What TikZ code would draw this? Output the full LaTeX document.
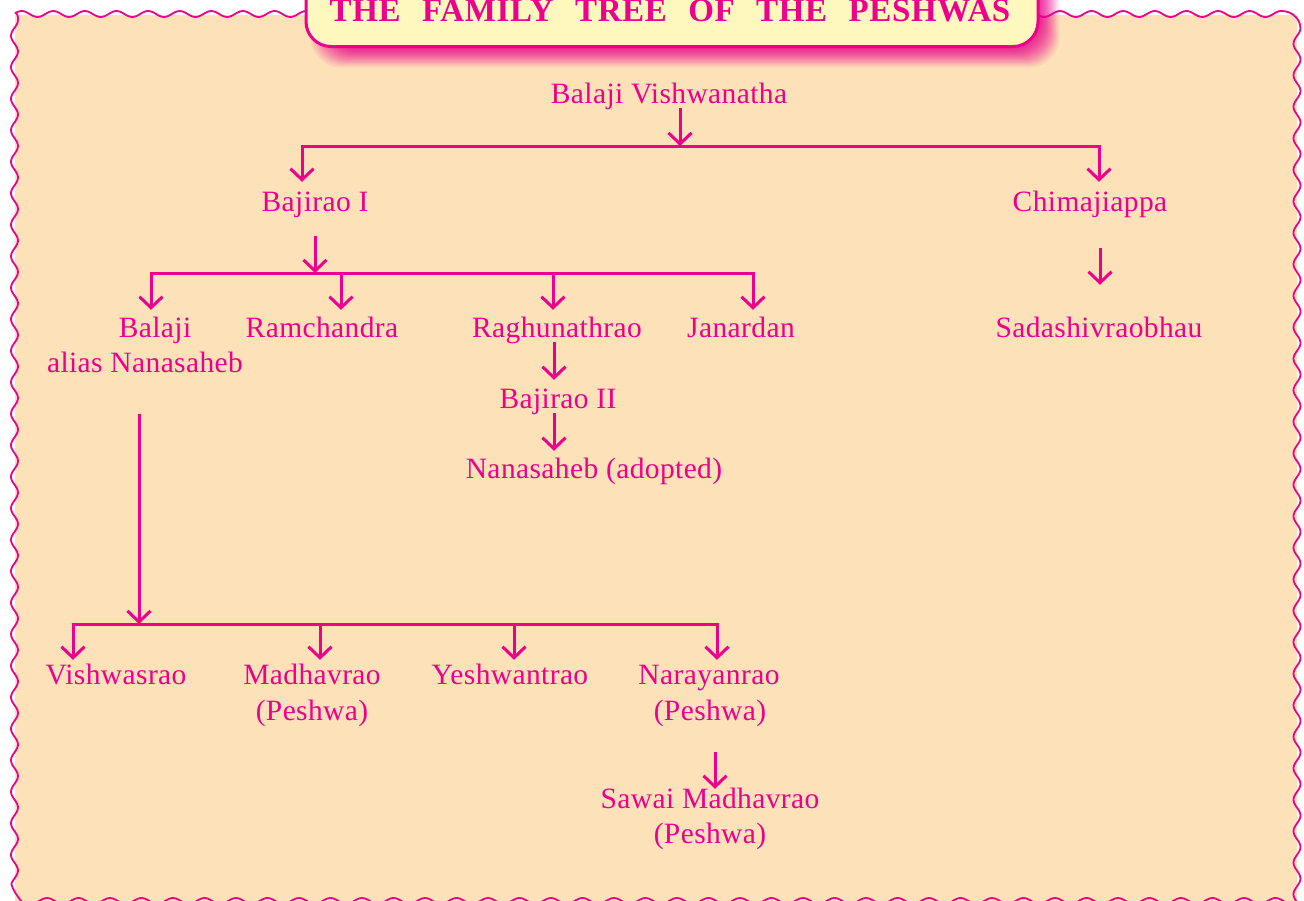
\documentclass[tikz,border=0pt]{standalone}
\usepackage{fontspec}
\setmainfont{Liberation Serif}
\newfontfamily\personfont[LetterSpace=1.3]{Liberation Serif}
\newfontfamily\titlefont[LetterSpace=2]{Liberation Serif}
\usetikzlibrary{arrows.meta}
\definecolor{pinkink}{RGB}{236,0,140}
\definecolor{peach}{RGB}{253,225,184}
\definecolor{titlefill}{RGB}{254,247,190}
\tikzset{
  person/.style={anchor=base,inner sep=0pt,text height=19pt,text depth=5pt,text=pinkink,font=\personfont\fontsize{29.5}{32}\selectfont},
  arr/.style={draw=pinkink,line width=3pt,-{Straight Barb[length=11pt,width=23pt,line width=3pt]}},
  bus/.style={draw=pinkink,line width=3pt,line cap=rect},
  wave/.style={draw=pinkink,line width=1.8pt,line join=round}
}
\begin{document}
\begin{tikzpicture}[x=1pt,y=-1pt]
\useasboundingbox (0,0) rectangle (1304,900);
% panel
\fill[peach] (15,14.7) -- (1297,14.7) -- (1297,905) -- (15,905) -- cycle;
% wavy border
\draw[wave] (15,12.5) .. controls (17,12.5) and (18.5,17) .. (18,20)
  plot[domain=20:884,samples=433,variable=\t] ({14.5+3.5*cos(11.4286*(\t-20))},\t)
  .. controls (13,890) and (17,896) .. (22,902);
\draw[wave] (15,12.5) plot[domain=15:306,samples=146,variable=\t] (\t,{14-3*cos(11.3924*(\t-21.7))});
\draw[wave] plot[domain=1038:1282,samples=123,variable=\t] (\t,{14-3*cos(11.3924*(\t-1060))})
  .. controls (1290,11) and (1300,17) .. (1300.5,28)
  plot[domain=28:905,samples=440,variable=\t] ({1297+3.5*cos(11.4286*(\t-28))},\t);
\draw[wave] plot[domain=24:1290,samples=634,variable=\t] (\t,{901-3*cos(11.4286*(\t-47))});
% title shadow
\foreach \i in {0,...,19}{
  \pgfmathsetmacro{\inset}{22*((\i+1)/20)^0.7}
  \fill[pinkink,opacity=0.075,rounded corners=30pt]
    ({308+\inset},-40) rectangle ({1062-\inset},{70-\inset});
}
% title
\node[draw=pinkink,line width=3pt,fill=titlefill,rounded corners=25pt,inner sep=0pt,
      minimum width=732pt,minimum height=108pt,anchor=south] (titlebox) at (672,48) {};
\node[anchor=base,inner sep=0pt,text=pinkink,font=\titlefont\fontsize{33}{36}\selectfont\bfseries] (titletext) at (670,21)
  {\spaceskip=21.4pt\relax THE FAMILY TREE OF THE PESHWAS};
% people
\node[person] (bv) at (669,103) {Balaji Vishwanatha};
\node[person] (b1) at (315,211) {Bajirao I};
\node[person] (chim) at (1090,211) {Chimajiappa};
\node[person] (bal) at (155,337) {Balaji};
\node[person] (alias) at (145,372) {alias Nanasaheb};
\node[person] (ram) at (322,337) {Ramchandra};
\node[person] (rag) at (557,337) {Raghunathrao};
\node[person] (jan) at (741,337) {Janardan};
\node[person] (sad) at (1099,337) {Sadashivraobhau};
\node[person] (b2) at (558,408) {Bajirao II};
\node[person] (nana) at (594,478) {Nanasaheb (adopted)};
\node[person] (vis) at (116,684) {Vishwasrao};
\node[person] (mad) at (312,684) {Madhavrao};
\node[person] (madp) at (312,720) {(Peshwa)};
\node[person] (yes) at (510,684) {Yeshwantrao};
\node[person] (nar) at (709,684) {Narayanrao};
\node[person] (narp) at (710,720) {(Peshwa)};
\node[person] (saw) at (710,808) {Sawai Madhavrao};
\node[person] (sawp) at (710,843) {(Peshwa)};
% junctions
\coordinate (j1) at (680,146);
\coordinate (j1a) at (302,146);
\coordinate (j1b) at (1099,146);
\coordinate (j2) at (315,273);
\coordinate (j2a) at (151,273);
\coordinate (j2b) at (341,273);
\coordinate (j2c) at (553,273);
\coordinate (j2d) at (753,273);
\coordinate (j3) at (139,624);
\coordinate (j3a) at (73,624);
\coordinate (j3b) at (320,624);
\coordinate (j3c) at (514,624);
\coordinate (j3d) at (717,624);
\coordinate (cx) at (1100,248);
\coordinate (rx) at (554,343);
\coordinate (nx) at (715,752);
% connectors
\draw[bus] (j1a) -- (j1b);
\draw[bus] (j2a) -- (j2d);
\draw[bus] (j3a) -- (j3d);
\draw[arr] (j1 |- bv.south) -- (j1);
\draw[arr,shorten >=10pt] (j1a) -- (j1a |- b1.north);
\draw[arr,shorten >=10pt] (j1b) -- (j1b |- chim.north);
\draw[arr,shorten <=20pt] (j2 |- b1.south) -- (j2);
\draw[arr,shorten >=8pt] (j2a) -- (j2a |- bal.north);
\draw[arr,shorten >=8pt] (j2b) -- (j2b |- ram.north);
\draw[arr,shorten >=8pt] (j2c) -- (j2c |- rag.north);
\draw[arr,shorten >=8pt] (j2d) -- (j2d |- jan.north);
\draw[arr,shorten <=32pt,shorten >=33pt] (cx |- chim.south) -- (cx |- sad.north);
\draw[arr,shorten >=9pt] (rx |- rag.south) -- (rx |- b2.north);
\draw[arr,shorten >=8pt] (rx |- b2.south) -- (rx |- nana.north);
\draw[arr,shorten <=37pt] (j3 |- alias.south) -- (j3);
\draw[arr,shorten >=5pt] (j3a) -- (j3a |- vis.north);
\draw[arr,shorten >=5pt] (j3b) -- (j3b |- mad.north);
\draw[arr,shorten >=5pt] (j3c) -- (j3c |- yes.north);
\draw[arr,shorten >=5pt] (j3d) -- (j3d |- nar.north);
\draw[arr,shorten <=27pt] (nx |- narp.south) -- (nx |- saw.north);
\end{tikzpicture}
\end{document}
